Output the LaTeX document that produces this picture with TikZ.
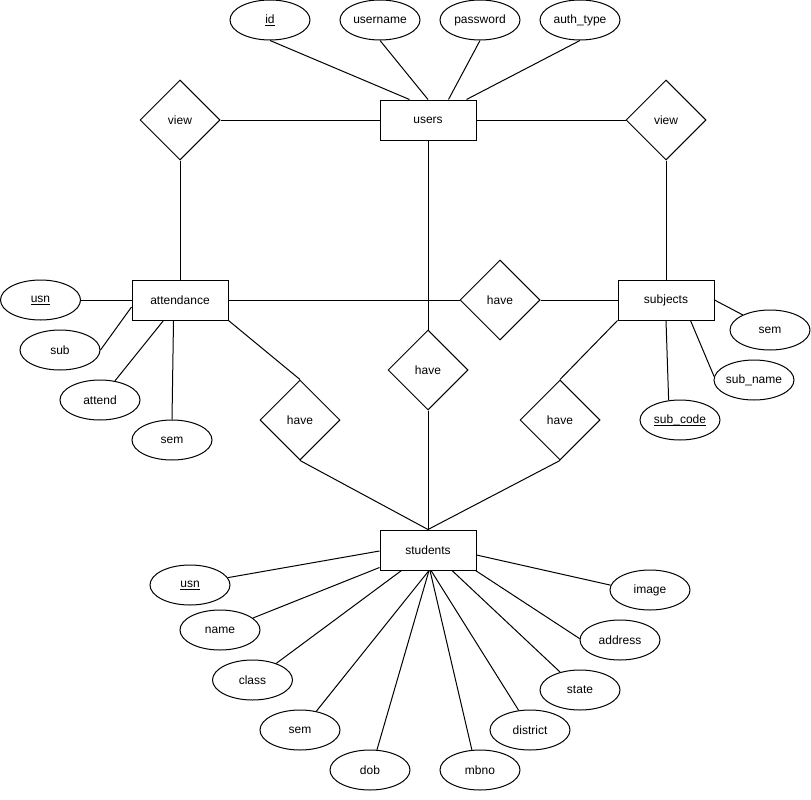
\documentclass[tikz,border=0pt]{standalone}
\usepackage{fontspec}
\setmainfont{Liberation Sans}
\usetikzlibrary{shapes.geometric}
% underlined key attribute, with the rule at a fixed depth below the baseline
\newcommand\keyattr[1]{\setbox0\hbox{#1}\rlap{\rule[-2.4pt]{\wd0}{0.8pt}}\box0}

\begin{document}
\begin{tikzpicture}[x=1pt,y=-1pt,
  every node/.style={font=\fontsize{12}{14}\selectfont, text=black},
  entity/.style={draw=black, line width=1pt, rectangle, minimum width=96pt, minimum height=40pt, inner sep=0pt},
  attr/.style={draw=black, line width=1pt, ellipse, minimum width=80pt, minimum height=40pt, inner sep=0pt},
  rel/.style={draw=black, line width=1pt, diamond, minimum width=80pt, minimum height=80pt, inner sep=0pt},
  link/.style={draw=black, line width=1pt}]

\useasboundingbox[fill=white] (0,0) rectangle (811,800);

% entities
\node[entity] (users) at (428,120) {users};
\node[entity] (attendance) at (180,300) {attendance};
\node[entity] (subjects) at (666,300) {subjects};
\node[entity] (students) at (428,550) {students};

% relationships
\node[rel] (viewL) at (180,120) {view};
\node[rel] (viewR) at (666,120) {view};
\node[rel] (haveTop) at (500,300) {have};
\node[rel] (haveMid) at (428,370) {have};
\node[rel] (haveL) at (300,420) {have};
\node[rel] (haveR) at (560,420) {have};

% users attributes
\node[attr] (uid) at (270,20) {\keyattr{id}};
\node[attr] (uname) at (380,20) {username};
\node[attr] (upass) at (480,20) {password};
\node[attr] (uauth) at (580,20) {auth\_type};

% attendance attributes
\node[attr] (ausn) at (40.5,300) {\keyattr{usn}};
\node[attr] (asub) at (60,350) {sub};
\node[attr] (aattend) at (100,400) {attend};
\node[attr] (asem) at (172,440) {sem};

% subjects attributes
\node[attr] (bsem) at (770,330) {sem};
\node[attr] (bname) at (754,380) {sub\_name};
\node[attr] (bcode) at (680,420) {\keyattr{sub\_code}};

% students attributes
\node[attr] (susn) at (190,585) {\keyattr{usn}};
\node[attr] (sname) at (220,630) {name};
\node[attr] (sclass) at (252.5,680) {class};
\node[attr] (ssem) at (300,730) {sem};
\node[attr] (sdob) at (370,770) {dob};
\node[attr] (smbno) at (480,770) {mbno};
\node[attr] (sdistrict) at (530,730) {district};
\node[attr] (sstate) at (580,690) {state};
\node[attr] (saddress) at (620,640) {address};
\node[attr] (simage) at (650,590) {image};

% relationship connectors
\draw[link] (users.west) -- (viewL.east);
\draw[link] (users.east) -- (viewR.west);
\draw[link] (viewL.south) -- (attendance.north);
\draw[link] (viewR.south) -- (subjects.north);
\draw[link] (users.south) -- (haveMid.north);
\draw[link] (haveMid.south) -- (students.north);
\draw[link] (attendance.east) -- (haveTop.west);
\draw[link] (haveTop.east) -- (subjects.west);
\draw[link] (attendance.south east) -- (haveL.north);
\draw[link] (haveL.south) -- (students.north);
\draw[link] (subjects.south west) -- (haveR.north);
\draw[link] (haveR.south) -- (students.north);

% users attribute links
\draw[link] (uid.south) -- ([xshift=30pt]users.north west);
\draw[link] (uname.south) -- (users.north);
\draw[link] (upass.south) -- ([xshift=69pt]users.north west);
\draw[link] (uauth.south) -- ([xshift=87pt]users.north west);

% attendance attribute links
\draw[link] (ausn.east) -- (attendance.west);
\draw[link] (asub.east) -- ([yshift=-7pt]attendance.west);
\draw[link] (aattend.52) -- ([xshift=32pt]attendance.south west);
\draw[link] (asem.north) -- ([xshift=42pt]attendance.south west);

% subjects attribute links
\draw[link] (bsem.151) -- (subjects.east);
\draw[link] (bname.175) -- ([xshift=73pt]subjects.south west);
\draw[link] (bcode.120) -- (subjects.south);

% students attribute links
\draw[link] (susn.11) -- ([yshift=-1pt]students.west);
\draw[link] (sname.20) -- ([yshift=3pt]students.south west);
\draw[link] (sclass.35) -- ([xshift=22pt]students.south west);
\draw[link] (ssem.49) -- ([xshift=1pt]students.south);
\draw[link] (sdob.71) -- ([xshift=1pt]students.south);
\draw[link] (smbno.112) -- ([xshift=2pt]students.south);
\draw[link] (sdistrict.120) -- ([xshift=3pt]students.south);
\draw[link] (sstate.138) -- ([xshift=24pt]students.south);
\draw[link] (saddress.178) -- ([xshift=-1pt]students.south east);
\draw[link] (simage.173) -- ([yshift=-5pt]students.east);
\end{tikzpicture}
\end{document}
